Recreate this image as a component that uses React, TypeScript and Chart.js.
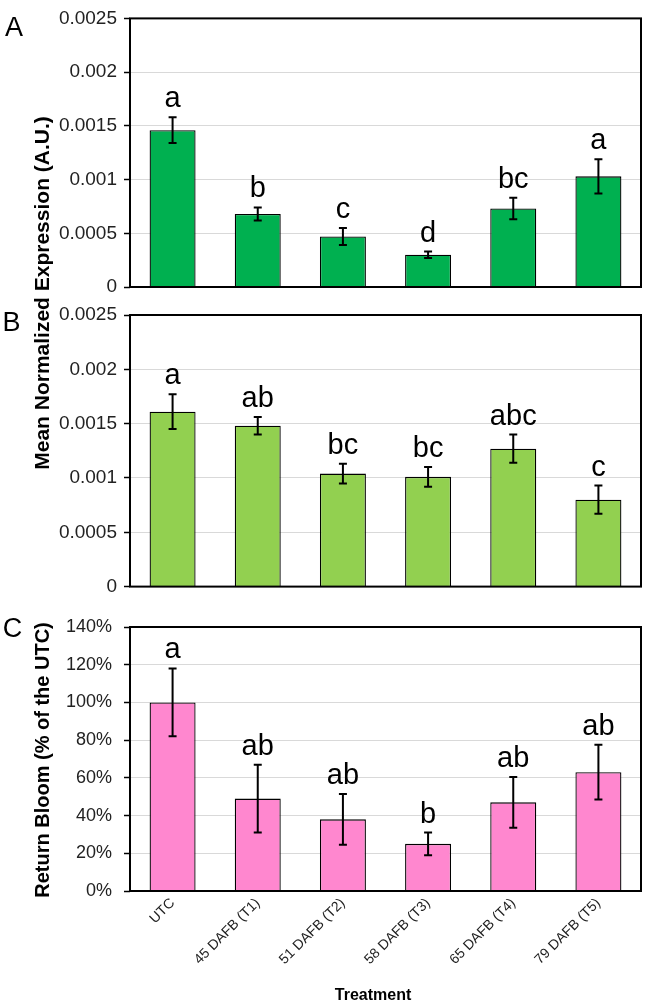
import React, { useEffect, useRef } from "react";
import { Chart, registerables } from "chart.js";

Chart.register(...registerables);

const FONT = "'Liberation Sans', Arial, Helvetica, sans-serif";

const categories = ["UTC", "45 DAFB (T1)", "51 DAFB (T2)", "58 DAFB (T3)", "65 DAFB (T4)", "79 DAFB (T5)"];

const exprA = [0.00146, 0.00068, 0.00047, 0.0003, 0.00073, 0.00103];
const errA = [0.00012, 0.00006, 0.00008, 0.00003, 0.0001, 0.00016];
const lettersA = ["a", "b", "c", "d", "bc", "a"];

const exprB = [0.00161, 0.00148, 0.00104, 0.00101, 0.00127, 0.0008];
const errB = [0.00016, 0.00008, 0.00009, 0.00009, 0.00013, 0.00013];
const lettersB = ["a", "ab", "bc", "bc", "abc", "c"];

const bloomC = [1.0, 0.49, 0.38, 0.25, 0.47, 0.63];
const errC = [0.18, 0.18, 0.135, 0.06, 0.135, 0.145];
const lettersC = ["a", "ab", "ab", "b", "ab", "ab"];

const exprTicks = ["0", "0.0005", "0.001", "0.0015", "0.002", "0.0025"];
const bloomTicks = ["0%", "20%", "40%", "60%", "80%", "100%", "120%", "140%"];

const errLettersPlugin = {
  id: "errLetters",
  afterDatasetsDraw(chart: any, _args: any, opts: any) {
    const ctx = chart.ctx;
    const meta = chart.getDatasetMeta(0);
    const ys = chart.scales.y;
    const vals = chart.data.datasets[0].data;
    ctx.save();
    meta.data.forEach((bar: any, i: number) => {
      const v = vals[i];
      const e = opts.errors[i];
      const x = bar.x;
      const yt = ys.getPixelForValue(v + e);
      const yb = ys.getPixelForValue(v - e);
      ctx.strokeStyle = "#000";
      ctx.lineWidth = 2;
      ctx.beginPath();
      ctx.moveTo(x, yt);
      ctx.lineTo(x, yb);
      ctx.moveTo(x - 4, yt);
      ctx.lineTo(x + 4, yt);
      ctx.moveTo(x - 4, yb);
      ctx.lineTo(x + 4, yb);
      ctx.stroke();
      ctx.fillStyle = "#000";
      ctx.font = `29px ${FONT}`;
      ctx.textAlign = "center";
      ctx.textBaseline = "alphabetic";
      ctx.fillText(opts.letters[i], x, yt - 10);
    });
    ctx.restore();
  },
  afterDraw(chart: any) {
    const { ctx, chartArea } = chart;
    ctx.save();
    ctx.strokeStyle = "#000";
    ctx.lineWidth = 2;
    ctx.strokeRect(chartArea.left, chartArea.top, chartArea.right - chartArea.left, chartArea.bottom - chartArea.top);
    ctx.restore();
  },
};

function build(canvas: HTMLCanvasElement, cfg: any) {
  return new Chart(canvas, {
    type: "bar",
    data: {
      labels: categories,
      datasets: [
        {
          data: cfg.values,
          backgroundColor: cfg.color,
          borderColor: "#000",
          borderWidth: 1.3,
          categoryPercentage: 1,
          barPercentage: 0.54,
        },
      ],
    },
    options: {
      animation: false,
      responsive: false,
      maintainAspectRatio: false,
      layout: { padding: cfg.padding },
      plugins: {
        legend: { display: false },
        tooltip: { enabled: false },
        errLetters: { errors: cfg.errors, letters: cfg.letters },
      } as any,
      scales: {
        x: {
          display: cfg.showX,
          offset: true,
          grid: { display: false, drawTicks: false },
          border: { display: false },
          ticks: {
            display: cfg.showX,
            minRotation: 45,
            maxRotation: 45,
            autoSkip: false,
            font: { size: 14, family: FONT },
            color: "#222",
            padding: 4,
          },
          afterFit: cfg.showX
            ? (s: any) => {
                s.height = 114;
              }
            : undefined,
        },
        y: {
          min: 0,
          max: cfg.yMax,
          ticks: {
            stepSize: cfg.step,
            font: { size: cfg.tickFont, family: FONT },
            color: "#222",
            padding: cfg.tickPad,
            callback: (_v: any, i: number) => cfg.tickLabels[i],
          },
          grid: { color: "#d9d9d9", lineWidth: 1, tickColor: "#000", tickLength: 6, tickWidth: 1.5 } as any,
          border: { display: false },
          afterFit: (s: any) => {
            s.width = 130;
          },
        },
      },
    },
    plugins: [errLettersPlugin],
  } as any);
}

export default function App() {
  const refA = useRef<HTMLCanvasElement>(null);
  const refB = useRef<HTMLCanvasElement>(null);
  const refC = useRef<HTMLCanvasElement>(null);

  useEffect(() => {
    Chart.defaults.font.family = FONT;
    const charts = [
      build(refA.current!, {
        values: exprA, errors: errA, letters: lettersA, color: "#00B050",
        yMax: 0.0025, step: 0.0005, tickLabels: exprTicks, showX: false,
        padding: { top: 12, bottom: 23, left: 0, right: 5 }, tickFont: 19, tickPad: 7,
      }),
      build(refB.current!, {
        values: exprB, errors: errB, letters: lettersB, color: "#92D050",
        yMax: 0.0025, step: 0.0005, tickLabels: exprTicks, showX: false,
        padding: { top: 20, bottom: 14, left: 0, right: 5 }, tickFont: 19, tickPad: 7,
      }),
      build(refC.current!, {
        values: bloomC, errors: errC, letters: lettersC, color: "#FF87CF",
        yMax: 1.4, step: 0.2, tickLabels: bloomTicks, showX: true,
        padding: { top: 27, bottom: 0, left: 0, right: 5 }, tickFont: 18, tickPad: 12,
      }),
    ];
    return () => charts.forEach((c) => c.destroy());
  }, []);

  const txt: React.CSSProperties = {
    position: "absolute",
    whiteSpace: "nowrap",
    lineHeight: 1,
    color: "#000",
    fontFamily: FONT,
  };

  return (
    <div style={{ position: "absolute", left: 0, top: 0, width: 646, height: 1005, background: "#fff", overflow: "hidden" }}>
      <canvas ref={refA} width={646} height={310} style={{ position: "absolute", left: 0, top: 0, width: 646, height: 310 }} />
      <canvas ref={refB} width={646} height={310} style={{ position: "absolute", left: 0, top: 295, width: 646, height: 310 }} />
      <canvas ref={refC} width={646} height={405} style={{ position: "absolute", left: 0, top: 600, width: 646, height: 405 }} />

      <div style={{ ...txt, left: 14, top: 27, fontSize: 27, transform: "translate(-50%,-50%)" }}>A</div>
      <div style={{ ...txt, left: 11.5, top: 322, fontSize: 27, transform: "translate(-50%,-50%)" }}>B</div>
      <div style={{ ...txt, left: 12.5, top: 628, fontSize: 27, transform: "translate(-50%,-50%)" }}>C</div>

      <div style={{ ...txt, left: 41, top: 293, fontSize: 21, fontWeight: "bold", transform: "translate(-50%,-50%) rotate(-90deg)" }}>
        Mean Normalized Expression (A.U.)
      </div>
      <div style={{ ...txt, left: 42, top: 760, fontSize: 20, fontWeight: "bold", transform: "translate(-50%,-50%) rotate(-90deg)" }}>
        Return Bloom (% of the UTC)
      </div>
      <div style={{ ...txt, left: 373, top: 995, fontSize: 16, fontWeight: "bold", transform: "translate(-50%,-50%)" }}>
        Treatment
      </div>
    </div>
  );
}
